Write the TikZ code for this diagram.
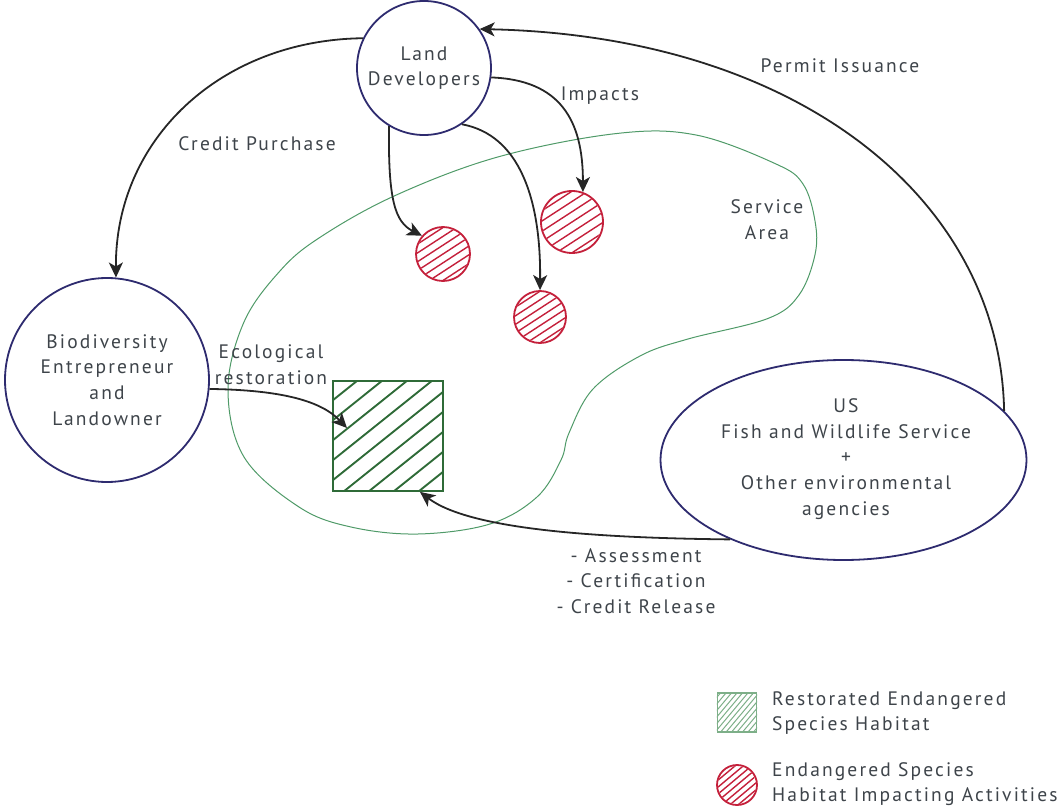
\documentclass[tikz,border=0pt]{standalone}
\usepackage{fontspec}
\setmainfont{PT Sans}[LetterSpace=11]
\usetikzlibrary{arrows.meta,shapes.geometric,calc}
\definecolor{navy}{HTML}{2E2B6F}
\definecolor{hred}{HTML}{C4203B}
\definecolor{dgreen}{HTML}{2F6B38}
\definecolor{sgreen}{HTML}{4F9A68}
\definecolor{lgreen}{HTML}{7DAF88}
\definecolor{txt}{HTML}{3E444A}
% #1 centre, #2 angle, #3 spacing, #4 count, #5 half length, #6 style
\newcommand{\hatchlines}[6]{\foreach \k in {-#4,...,#4}{\draw[#6] ($(#1)+({\k*#3*sin(#2)},{\k*#3*cos(#2)})+({-#5*cos(#2)},{#5*sin(#2)})$) -- ++({2*#5*cos(#2)},{-2*#5*sin(#2)});}}
\begin{document}
\begin{tikzpicture}[x=1pt,y=-1pt,
  every node/.style={text=txt, font=\fontsize{19.5}{25.7}\selectfont},
  actor/.style={circle, draw=navy, line width=1.8pt, fill=white, align=center, inner sep=0pt},
  agency/.style={ellipse, draw=navy, line width=1.8pt, fill=white, inner sep=0pt},
  lbl/.style={align=center, inner sep=0pt},
  flow/.style={draw=black!85, line width=1.8pt, -{Stealth[length=15pt,width=14pt,inset=4pt]}},
  redc/.style={circle, draw=hred, line width=1.8pt, inner sep=0pt},
  redh/.style={draw=hred, line width=1.4pt},
  grnsq/.style={rectangle, draw=dgreen, line width=1.8pt, inner sep=0pt},
  grnh/.style={draw=dgreen, line width=1.9pt},
  lgrnsq/.style={rectangle, draw=lgreen, line width=1.2pt, inner sep=0pt},
  lgrnh/.style={draw=lgreen, line width=1pt},
  area/.style={draw=sgreen, line width=1pt}
]
\useasboundingbox (0,0) rectangle (1058,810);

% service area
\draw[area] plot[smooth cycle, tension=0.6] coordinates {
 (394.6,195.8) (497.8,157) (616.8,133.5) (696,135) (775.6,163.8) (803,184)
 (815,221) (815,254.7) (799,295) (767.6,318.6) (688,339) (640.6,355.7)
 (593,389) (569,433) (561,460) (537,497) (490,524) (418,534) (351,527)
 (299,507) (244,457) (228,389) (244,322) (279.5,271.5) (319,238)};

% actors
\node[actor, minimum size=134pt] (ld) at (424,68) {Land\\Developers};
\node[actor, minimum size=204pt] (bio) at (107,380) {Biodiversity\\Entrepreneur\\and\\Landowner};
\node[agency, minimum width=366pt, minimum height=200pt] (us) at (843.5,460) {};
\node[lbl] (ustext) at (846,459) {US\\Fish and Wildlife Service\\+\\Other environmental\\agencies};

% impacted habitats
\node[redc, minimum size=62pt] (ra) at (572,222) {};
\node[redc, minimum size=54pt] (rb) at (443,254) {};
\node[redc, minimum size=52pt] (rc) at (540,317) {};
\begin{scope}\clip (ra.center) circle[radius=30];
 \hatchlines{ra.center}{33}{8.6}{5}{40}{redh}\end{scope}
\begin{scope}\clip (rb.center) circle[radius=26];
 \hatchlines{rb.center}{33}{7.4}{5}{35}{redh}\end{scope}
\begin{scope}\clip (rc.center) circle[radius=25];
 \hatchlines{rc.center}{33}{7.2}{5}{35}{redh}\end{scope}

% restored habitat
\node[grnsq, minimum size=110pt] (sq) at (388,436) {};
\begin{scope}\clip (sq.south west) rectangle (sq.north east);
 \hatchlines{sq.center}{38.7}{15.6}{6}{90}{grnh}\end{scope}
\node[grnsq, minimum size=110pt] (sqb) at (388,436) {};

% flows
\draw[flow] (ld.154) .. controls (220,40) and (115,140) .. (bio.85);
\draw[flow] (us.17) .. controls (1000,200) and (800,36) .. (ld.35);
\draw[flow] (ld.-8) .. controls (560,80) and (583,120) .. (ra.70);
\draw[flow] (ld.-121) .. controls (388,200) and (395,222) .. (rb.139);
\draw[flow] (ld.-56) .. controls (520,135) and (541,200) .. (rc.90);
\coordinate (ecoend) at ($(sq.center)+(-41,-8)$);
\draw[flow] (bio.-5) .. controls (285,390) and (322,402) .. (ecoend);
\coordinate (assessend) at ($(sq.south)+(32,0)$);
\draw[flow] (us.215) .. controls (600,538) and (470,530) .. (assessend);

% labels
\node[lbl] (credit) at (257,144) {Credit Purchase};
\node[lbl] (impacts) at (600,96) {Impacts};
\node[lbl] (permit) at (840,66) {Permit Issuance};
\node[lbl] (service) at (767,220) {Service\\Area};
\node[lbl] (eco) at (271,365) {Ecological\\restoration};
\node[lbl] (assess) at (636,581) {- Assessment\\- Certification\\- Credit Release};

% legend
\node[lgrnsq, minimum size=39pt] (lsq) at (737,712.5) {};
\begin{scope}\clip (lsq.south west) rectangle (lsq.north east);
 \hatchlines{lsq.center}{50}{4.2}{8}{40}{lgrnh}\end{scope}
\node[lbl, align=left, anchor=west] (leg1) at (772,713) {Restorated Endangered\\Species Habitat};
\node[redc, minimum size=40pt] (lrc) at (737,785) {};
\begin{scope}\clip (lrc.center) circle[radius=19];
 \hatchlines{lrc.center}{40}{5.3}{5}{30}{redh}\end{scope}
\node[lbl, align=left, anchor=west] (leg2) at (772,784) {Endangered Species\\Habitat Impacting Activities};
\end{tikzpicture}
\end{document}
